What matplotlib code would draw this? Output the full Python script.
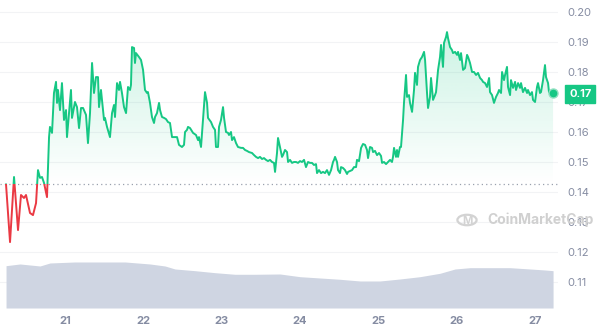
import numpy as np
import matplotlib
matplotlib.use("Agg")
import matplotlib.pyplot as plt
from matplotlib.patches import Polygon, Rectangle, Circle

plt.rcParams['font.family'] = ['Inter', 'DejaVu Sans']

# price readings (day of month, USD)
days = [20.247, 20.298, 20.349, 20.400, 20.438, 20.476, 20.502, 20.553, 20.591, 20.630,
        20.655, 20.681, 20.706, 20.732, 20.770, 20.796, 20.808, 20.834, 20.859, 20.885,
        20.898, 20.910, 20.936, 20.961, 20.987, 21.013, 21.025, 21.051, 21.076, 21.089,
        21.127, 21.153, 21.179, 21.204, 21.230, 21.268, 21.293, 21.319, 21.345, 21.370,
        21.395, 21.421, 21.434, 21.459, 21.472, 21.498, 21.510, 21.536, 21.574, 21.600,
        21.625, 21.638, 21.664, 21.689, 21.702, 21.727, 21.753, 21.779, 21.804, 21.830,
        21.842, 21.855, 21.881, 21.893, 21.906, 21.944, 21.970, 21.996, 22.021, 22.047,
        22.059, 22.085, 22.110, 22.136, 22.149, 22.174, 22.200, 22.213, 22.238, 22.264,
        22.289, 22.315, 22.340, 22.366, 22.404, 22.430, 22.455, 22.493, 22.519, 22.532,
        22.557, 22.570, 22.596, 22.634, 22.672, 22.698, 22.710, 22.736, 22.761, 22.787,
        22.813, 22.825, 22.864, 22.889, 22.915, 22.927, 22.953, 22.966, 22.991, 23.017,
        23.030, 23.055, 23.081, 23.093, 23.119, 23.132, 23.157, 23.183, 23.208, 23.247,
        23.272, 23.298, 23.323, 23.349, 23.387, 23.413, 23.438, 23.464, 23.489, 23.515,
        23.540, 23.566, 23.591, 23.617, 23.642, 23.668, 23.681, 23.706, 23.719, 23.744,
        23.770, 23.783, 23.808, 23.834, 23.847, 23.872, 23.898, 23.923, 23.949, 23.974,
        24.000, 24.025, 24.051, 24.076, 24.102, 24.127, 24.153, 24.178, 24.204, 24.217,
        24.242, 24.268, 24.293, 24.319, 24.344, 24.370, 24.396, 24.421, 24.434, 24.447,
        24.472, 24.485, 24.510, 24.523, 24.549, 24.574, 24.600, 24.613, 24.638, 24.664,
        24.689, 24.715, 24.727, 24.753, 24.779, 24.804, 24.830, 24.855, 24.868, 24.893,
        24.919, 24.932, 24.957, 24.983, 25.008, 25.034, 25.047, 25.072, 25.098, 25.123,
        25.149, 25.174, 25.187, 25.200, 25.225, 25.238, 25.251, 25.276, 25.289, 25.315,
        25.327, 25.353, 25.366, 25.391, 25.404, 25.430, 25.455, 25.468, 25.493, 25.506,
        25.532, 25.557, 25.583, 25.596, 25.621, 25.634, 25.659, 25.672, 25.698, 25.723,
        25.736, 25.762, 25.787, 25.800, 25.825, 25.838, 25.864, 25.876, 25.889, 25.915,
        25.940, 25.953, 25.979, 26.004, 26.017, 26.042, 26.055, 26.081, 26.106, 26.132,
        26.145, 26.170, 26.196, 26.221, 26.247, 26.272, 26.298, 26.323, 26.336, 26.362,
        26.387, 26.413, 26.425, 26.451, 26.476, 26.502, 26.527, 26.540, 26.566, 26.579,
        26.604, 26.617, 26.642, 26.655, 26.681, 26.693, 26.719, 26.745, 26.757, 26.783,
        26.808, 26.821, 26.846, 26.872, 26.898, 26.910, 26.936, 26.961, 26.974, 27.000,
        27.025, 27.038, 27.063, 27.076, 27.102, 27.127, 27.140, 27.166, 27.178, 27.204,
        27.230]

prices = [0.1425, 0.1233, 0.1450, 0.1273, 0.1390, 0.1380, 0.1390, 0.1330, 0.1323, 0.1363,
          0.1473, 0.1447, 0.1450, 0.1430, 0.1383, 0.1583, 0.1617, 0.1597, 0.1730, 0.1767,
          0.1697, 0.1740, 0.1673, 0.1763, 0.1640, 0.1673, 0.1583, 0.1663, 0.1740, 0.1647,
          0.1700, 0.1683, 0.1613, 0.1680, 0.1680, 0.1657, 0.1563, 0.1663, 0.1830, 0.1730,
          0.1783, 0.1783, 0.1683, 0.1740, 0.1707, 0.1640, 0.1647, 0.1617, 0.1583, 0.1663,
          0.1690, 0.1650, 0.1763, 0.1740, 0.1767, 0.1730, 0.1683, 0.1663, 0.1750, 0.1740,
          0.1757, 0.1883, 0.1880, 0.1830, 0.1863, 0.1850, 0.1840, 0.1807, 0.1740, 0.1730,
          0.1733, 0.1697, 0.1650, 0.1630, 0.1650, 0.1663, 0.1697, 0.1673, 0.1650, 0.1647,
          0.1643, 0.1633, 0.1630, 0.1583, 0.1583, 0.1583, 0.1557, 0.1550, 0.1557, 0.1600,
          0.1607, 0.1617, 0.1613, 0.1597, 0.1590, 0.1573, 0.1583, 0.1550, 0.1640, 0.1733,
          0.1697, 0.1647, 0.1633, 0.1617, 0.1607, 0.1550, 0.1550, 0.1617, 0.1640, 0.1683,
          0.1647, 0.1600, 0.1597, 0.1590, 0.1600, 0.1573, 0.1583, 0.1563, 0.1550, 0.1547,
          0.1547, 0.1540, 0.1537, 0.1533, 0.1530, 0.1523, 0.1517, 0.1513, 0.1517, 0.1510,
          0.1513, 0.1507, 0.1503, 0.1507, 0.1500, 0.1497, 0.1467, 0.1530, 0.1580, 0.1550,
          0.1517, 0.1523, 0.1540, 0.1533, 0.1500, 0.1507, 0.1497, 0.1500, 0.1500, 0.1497,
          0.1503, 0.1500, 0.1507, 0.1483, 0.1500, 0.1497, 0.1497, 0.1490, 0.1493, 0.1463,
          0.1473, 0.1463, 0.1467, 0.1463, 0.1473, 0.1457, 0.1473, 0.1500, 0.1507, 0.1517,
          0.1500, 0.1473, 0.1463, 0.1483, 0.1480, 0.1473, 0.1460, 0.1467, 0.1470, 0.1473,
          0.1483, 0.1483, 0.1507, 0.1503, 0.1547, 0.1560, 0.1557, 0.1540, 0.1513, 0.1550,
          0.1547, 0.1533, 0.1537, 0.1523, 0.1530, 0.1520, 0.1497, 0.1500, 0.1493, 0.1500,
          0.1507, 0.1500, 0.1517, 0.1547, 0.1517, 0.1540, 0.1517, 0.1550, 0.1550, 0.1640,
          0.1697, 0.1790, 0.1717, 0.1723, 0.1697, 0.1667, 0.1740, 0.1797, 0.1757, 0.1817,
          0.1840, 0.1850, 0.1867, 0.1840, 0.1730, 0.1680, 0.1717, 0.1780, 0.1707, 0.1723,
          0.1733, 0.1807, 0.1850, 0.1890, 0.1817, 0.1897, 0.1917, 0.1933, 0.1913, 0.1883,
          0.1873, 0.1863, 0.1867, 0.1857, 0.1867, 0.1840, 0.1863, 0.1807, 0.1813, 0.1857,
          0.1850, 0.1830, 0.1800, 0.1800, 0.1790, 0.1797, 0.1780, 0.1773, 0.1767, 0.1763,
          0.1750, 0.1780, 0.1733, 0.1723, 0.1697, 0.1717, 0.1730, 0.1740, 0.1730, 0.1800,
          0.1773, 0.1790, 0.1817, 0.1750, 0.1723, 0.1773, 0.1747, 0.1767, 0.1740, 0.1763,
          0.1747, 0.1763, 0.1733, 0.1747, 0.1730, 0.1740, 0.1723, 0.1733, 0.1707, 0.1700,
          0.1750, 0.1763, 0.1730, 0.1733, 0.1773, 0.1823, 0.1783, 0.1763, 0.1733, 0.1730,
          0.1730]

# volume readings (day of month, arbitrary units)
vol_days = [20.247, 20.425, 20.681, 20.808, 21.127, 21.447, 21.766, 22.085, 22.276, 22.404,
            22.659, 22.915, 23.170, 23.425, 23.744, 24.000, 24.255, 24.510, 24.766, 25.021,
            25.276, 25.532, 25.787, 25.979, 26.170, 26.425, 26.681, 26.936, 27.127, 27.230]
volume = [4.23, 4.40, 4.20, 4.50, 4.60, 4.60, 4.60, 4.40, 4.20, 3.90,
          3.73, 3.53, 3.37, 3.37, 3.40, 3.13, 3.00, 2.87, 2.70, 2.70,
          2.90, 3.13, 3.47, 3.90, 4.03, 4.03, 4.03, 3.90, 3.80, 3.73]

day_ticks = [21, 22, 23, 24, 25, 26, 27]
price_ticks = [0.11, 0.12, 0.13, 0.14, 0.15, 0.16, 0.17, 0.18, 0.19, 0.20]

green = '#16c784'
red = '#ea3943'
grey_text = '#858ca2'

days = np.array(days)
prices = np.array(prices)
base = prices[0]

fig = plt.figure(figsize=(6, 3.27), dpi=100)
ax = fig.add_axes([0, 19 / 327, 558 / 600, 306 / 327])
vax = ax.twinx()
ax.set_zorder(vax.get_zorder() + 1)
ax.patch.set_visible(False)

xmin, xmax = 20.170, 27.293
ymin, ymax = 0.10133, 0.20333
ax.set_xlim(xmin, xmax)
ax.set_ylim(ymin, ymax)

# grid, drawn on the lower axes so the volume area covers it
for t in price_ticks:
    vax.plot([0, 1], [t, t], transform=ax.get_yaxis_transform(),
             color='#f2f3f5', lw=0.8, zorder=0)

# volume area
vax.fill_between(vol_days, volume, 0, color='#cfd5e2', lw=0, zorder=1)
vax.set_ylim(0, max(volume) * 6.65)
vax.set_yticks([])

# gradient fill above the baseline
grad = np.zeros((256, 1, 4))
grad[:, 0, 0] = 22 / 255
grad[:, 0, 1] = 199 / 255
grad[:, 0, 2] = 132 / 255
grad[:, 0, 3] = np.linspace(0.0, 0.22, 256)
im = ax.imshow(grad, extent=[xmin, xmax, base, max(prices)], origin='lower',
               aspect='auto', zorder=1)
verts = [(days[0], base)] + list(zip(days, np.maximum(prices, base))) + [(days[-1], base)]
clip = Polygon(verts, closed=True, transform=ax.transData, facecolor='none', edgecolor='none')
ax.add_patch(clip)
im.set_clip_path(clip)

# price line, green above the baseline and red below
gl, = ax.plot(days, prices, color=green, lw=1.4, zorder=3, solid_joinstyle='round')
rl, = ax.plot(days, prices, color=red, lw=1.4, zorder=3, solid_joinstyle='round')
up = Rectangle((xmin, base), xmax - xmin, ymax - base, transform=ax.transData)
down = Rectangle((xmin, ymin), xmax - xmin, base - ymin, transform=ax.transData)
gl.set_clip_path(up)
rl.set_clip_path(down)

ax.axhline(base, color='#9aa1ae', lw=0.9, ls=(0, (1, 2.5)), zorder=2)

ax.plot(days[-1], prices[-1], 'o', color=green, ms=6.5, mec='#8fe0c0', mew=1, zorder=4)

# axes styling
for s in ax.spines.values():
    s.set_visible(False)
for s in vax.spines.values():
    s.set_visible(False)
ax.yaxis.tick_right()
ax.set_yticks(price_ticks)
ax.set_yticklabels(['%.2f' % t for t in price_ticks])
ax.set_xticks(day_ticks)
ax.set_xticklabels([str(d) for d in day_ticks])
ax.tick_params(axis='y', length=0, pad=7, labelsize=8, labelcolor=grey_text)
ax.tick_params(axis='x', length=0, pad=6, labelsize=8, labelcolor=grey_text)
for lab in ax.get_xticklabels():
    lab.set_fontweight('bold')

# current price tag
ax.annotate('%.2f' % prices[-1], xy=(1.0, prices[-1]), xycoords=('axes fraction', 'data'),
            xytext=(8, -1), textcoords='offset points', ha='left', va='center',
            fontsize=8, color='white', fontweight='bold', annotation_clip=False,
            bbox=dict(boxstyle='square,pad=0.35', fc=green, ec=green), zorder=6)

# watermark
fig.patches.append(Circle((467 / 600, 1 - 220 / 327), 0.016, transform=fig.transFigure,
                          fill=False, ec='#d3d3d3', lw=1.6))
fig.text(467 / 600, 1 - 221 / 327, 'M', ha='center', va='center', fontsize=8,
         color='#d3d3d3', fontweight='bold')
fig.text(487 / 600, 1 - 220 / 327, 'CoinMarketCap', ha='left', va='center', fontsize=10,
         color='#d0d0d0', fontweight='bold')

fig.savefig('out.png', dpi=100)
